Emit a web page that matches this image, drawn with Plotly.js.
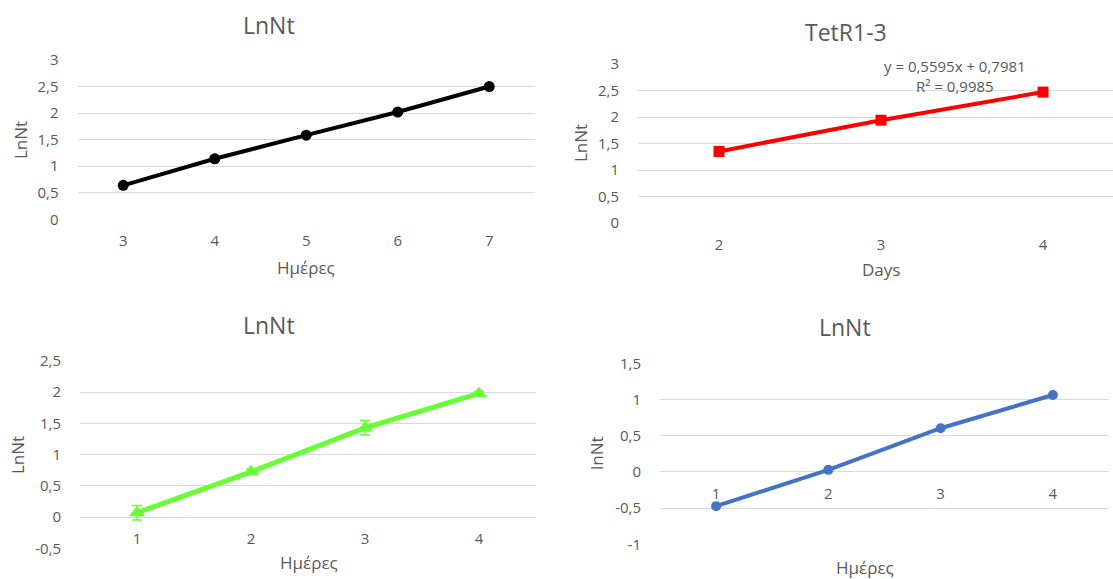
<!DOCTYPE html>
<html>
<head>
<meta charset="utf-8">
<script src="https://cdn.plot.ly/plotly-3.0.1.min.js"></script>
<style>html,body{margin:0;padding:0;background:#fff;}#chart{width:1113px;height:579px;}</style>
</head>
<body>
<div id="chart"></div>
<script>
// ---- Data ----
const p1Days = [3, 4, 5, 6, 7];
const p1LnNt = [0.64, 1.14, 1.585, 2.02, 2.50];
const p1Err  = [0.015, 0.05, 0.02, 0.02, 0.015];

const p2Days = [2, 3, 4];
const p2LnNt = [1.35, 1.94, 2.47];

const p3Days = [1, 2, 3, 4];
const p3LnNt = [0.07, 0.725, 1.43, 1.98];
const p3Err  = [0.115, 0.04, 0.115, 0.03];

const p4Days = [1, 2, 3, 4];
const p4LnNt = [-0.473, 0.028, 0.603, 1.062];

// tick labels
const y1Vals = [0, 0.5, 1, 1.5, 2, 2.5, 3];
const y1Text = ['0', '0,5', '1', '1,5', '2', '2,5', '3'];
const y3Vals = [-0.5, 0, 0.5, 1, 1.5, 2, 2.5];
const y3Text = ['-0,5', '0', '0,5', '1', '1,5', '2', '2,5'];
const y4Vals = [-1, -0.5, 0, 0.5, 1, 1.5];
const y4Text = ['-1', '-0,5', '0', '0,5', '1', '1,5'];

const titles = ['LnNt', 'TetR1-3', 'LnNt', 'LnNt'];
const xTitles = ['Ημέρες', 'Days', 'Ημέρες', 'Ημέρες'];
const yTitles = ['LnNt', 'LnNt', 'LnNt', 'lnNt'];
const trendText = 'y = 0,5595x + 0,7981<br>R² = 0,9985';

// ---- Styling ----
const FONT = 'Open Sans, Noto Sans, sans-serif';
const GRAY = '#595959';
const GRID = '#d9d9d9';
const W = 1113, H = 579;

function yAxis(domain, range, vals, text, anchor) {
  return {
    domain: domain, range: range, anchor: anchor,
    tickvals: vals, ticktext: text, showgrid: true, gridcolor: GRID, gridwidth: 1,
    zeroline: false, showline: false, ticks: '', ticklabelstandoff: 18,
    tickfont: {family: FONT, size: 15, color: GRAY}, fixedrange: true
  };
}
function xAxis(domain, range, vals, anchor, position) {
  const a = {
    domain: domain, range: range, tickvals: vals, ticktext: vals.map(String),
    showgrid: false, zeroline: false, showline: false, ticks: '', ticklabelstandoff: 11,
    tickfont: {family: FONT, size: 15, color: GRAY}, fixedrange: true
  };
  if (anchor === 'free') { a.anchor = 'free'; a.position = position; } else { a.anchor = anchor; }
  return a;
}
function zeroPos(dom, rng) { return dom[0] + (0 - rng[0]) / (rng[1] - rng[0]) * (dom[1] - dom[0]); }

const dx1 = [77.5 / W, 535 / W], dy1 = [1 - 219.3 / H, 1 - 60 / H];
const dx2 = [638 / W, 1], dy2 = [1 - 223 / H, 1 - 64 / H];
const dx3 = [80 / W, 536 / W], dy3 = [1 - 548.3 / H, 1 - 361 / H];
const dx4 = [660 / W, 1109 / W], dy4 = [1 - 544.3 / H, 1 - 363.3 / H];
const ry3 = [-0.5, 2.5], ry4 = [-1, 1.5];

const traces = [
  {x: p1Days, y: p1LnNt, xaxis: 'x', yaxis: 'y', type: 'scatter', mode: 'lines+markers',
   line: {color: '#000000', width: 4}, marker: {symbol: 'circle', size: 11, color: '#000000'},
   error_y: {type: 'data', array: p1Err, color: '#000000', thickness: 1.5, width: 4}},
  {x: p2Days, y: p2LnNt, xaxis: 'x2', yaxis: 'y2', type: 'scatter', mode: 'lines+markers',
   line: {color: '#ff0000', width: 4}, marker: {symbol: 'square', size: 11, color: '#ff0000'}},
  {x: p3Days, y: p3LnNt, xaxis: 'x3', yaxis: 'y3', type: 'scatter', mode: 'lines+markers',
   line: {color: '#66ff33', width: 5}, marker: {symbol: 'triangle-up', size: 14, color: '#66ff33'},
   error_y: {type: 'data', array: p3Err, color: '#66ff33', thickness: 1.5, width: 5}},
  {x: p4Days, y: p4LnNt, xaxis: 'x4', yaxis: 'y4', type: 'scatter', mode: 'lines+markers',
   line: {color: '#4472c4', width: 4}, marker: {symbol: 'circle', size: 10, color: '#4472c4'}}
];

function ann(text, x, y, size, angle) {
  return {text: text, xref: 'paper', yref: 'paper', x: x / W, y: 1 - y / H, xanchor: 'center', yanchor: 'middle',
          showarrow: false, textangle: angle || 0, font: {family: FONT, size: size, color: GRAY}};
}

const annotations = [
  ann(titles[0], 269, 25, 23), ann(titles[1], 846, 32, 23), ann(titles[2], 269, 325, 23), ann(titles[3], 845, 327, 23),
  ann(xTitles[0], 306, 267, 17), ann(xTitles[1], 881, 269, 17), ann(xTitles[2], 309, 562, 17), ann(xTitles[3], 865, 567, 17),
  ann(yTitles[0], 20, 140, 17, -90), ann(yTitles[1], 580, 143, 17, -90), ann(yTitles[2], 17, 455, 17, -90), ann(yTitles[3], 596, 453, 17, -90),
  {text: trendText, xref: 'paper', yref: 'paper', x: 955 / W, y: 1 - 76 / H, xanchor: 'center', yanchor: 'middle',
   showarrow: false, align: 'center', font: {family: FONT, size: 15, color: GRAY}}
];

const layout = {
  width: W, height: H, margin: {l: 0, r: 0, t: 0, b: 0}, paper_bgcolor: '#ffffff', plot_bgcolor: 'rgba(0,0,0,0)',
  showlegend: false, font: {family: FONT, color: GRAY},
  xaxis: xAxis(dx1, [2.5, 7.5], p1Days, 'y'),
  yaxis: yAxis(dy1, [0, 3], y1Vals, y1Text, 'x'),
  xaxis2: xAxis(dx2, [1.5, 4 + 70 / 162], p2Days, 'y2'),
  yaxis2: yAxis(dy2, [0, 3], y1Vals, y1Text, 'x2'),
  xaxis3: xAxis(dx3, [0.5, 4.5], p3Days, 'free', zeroPos(dy3, ry3)),
  yaxis3: yAxis(dy3, ry3, y3Vals, y3Text, 'x3'),
  xaxis4: xAxis(dx4, [0.5, 4.5], p4Days, 'free', zeroPos(dy4, ry4)),
  yaxis4: yAxis(dy4, ry4, y4Vals, y4Text, 'x4'),
  annotations: annotations
};

Plotly.newPlot('chart', traces, layout, {displayModeBar: false, staticPlot: true});
</script>
</body>
</html>
